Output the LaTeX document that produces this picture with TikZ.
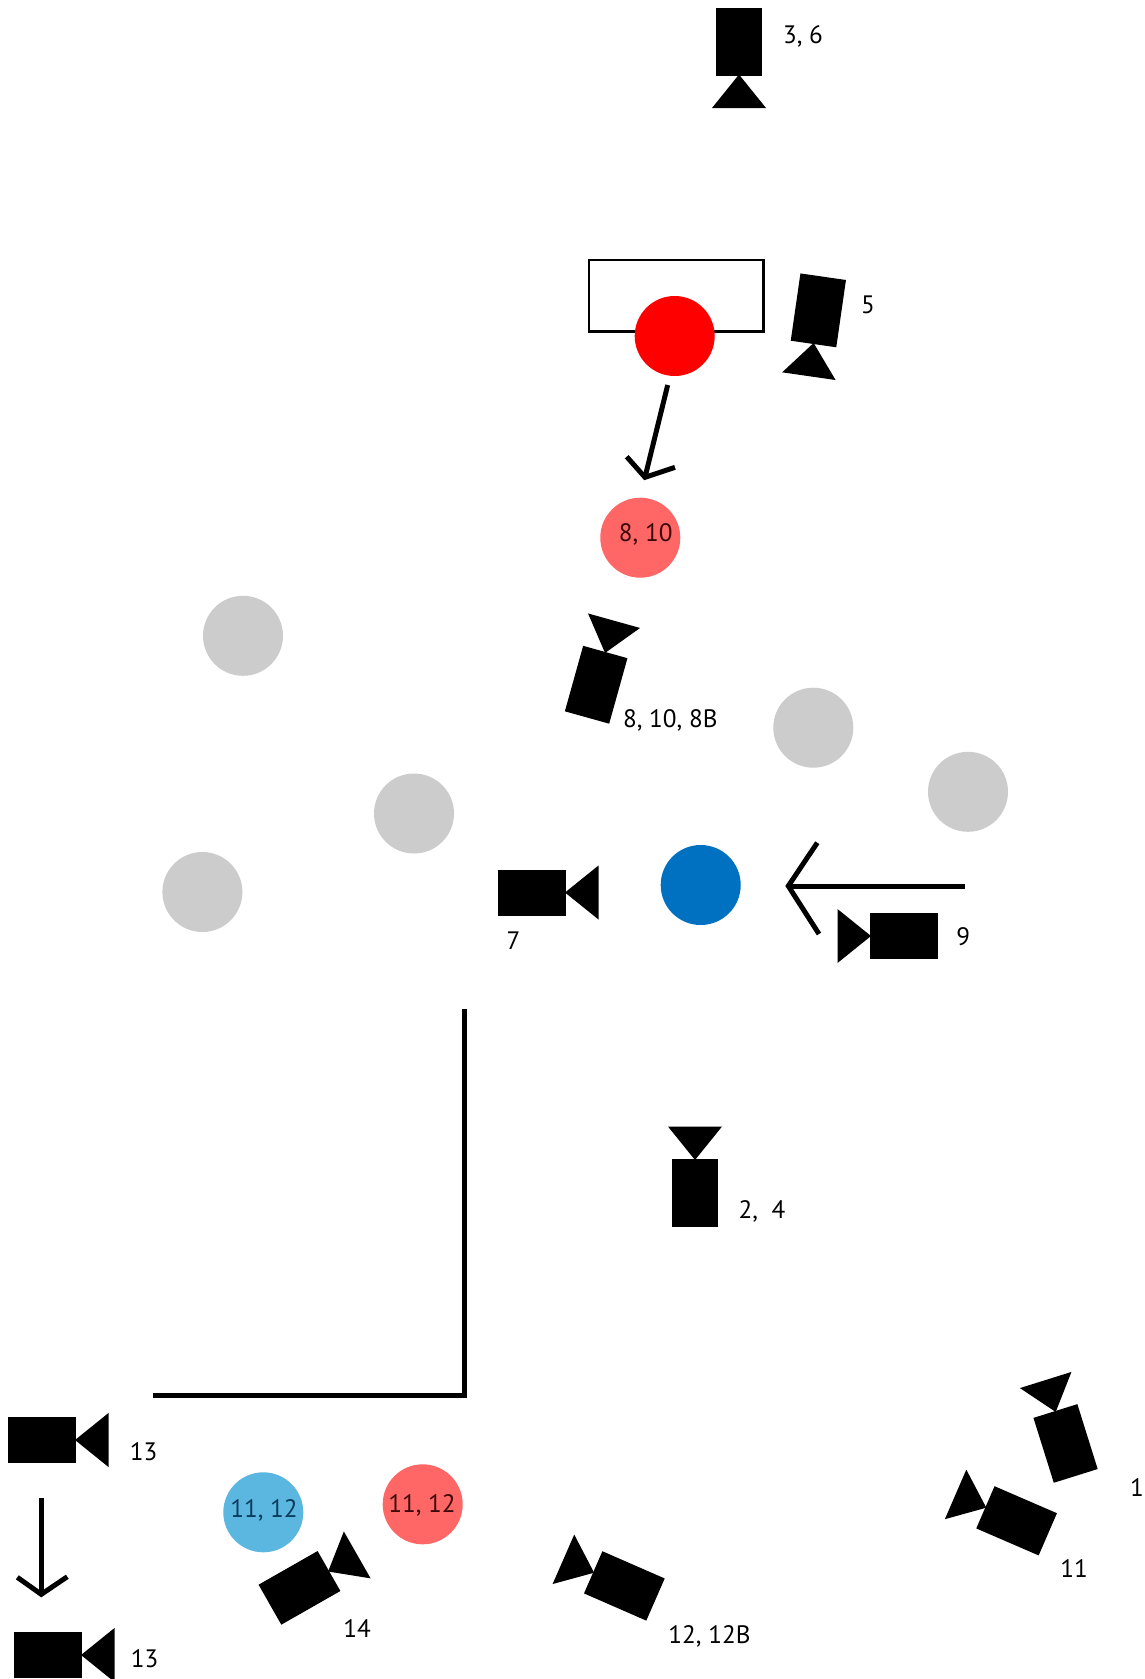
\documentclass[tikz,border=0pt]{standalone}
\usepackage{fontspec}
\setmainfont{PT Sans}
\definecolor{gray1}{HTML}{CCCCCC}
\definecolor{red1}{HTML}{FF0000}
\definecolor{red2}{HTML}{FF6666}
\definecolor{blue1}{HTML}{0070C0}
\definecolor{blue2}{HTML}{5BB7E0}
\tikzset{
  x=1pt,y=-1pt,
  person/.style={circle,minimum size=80pt,inner sep=0pt,outer sep=0pt,fill=#1},
  lab/.style={font=\fontsize{25.2}{26}\selectfont,inner sep=0pt,text=black,text depth=0pt},
  stroke/.style={line width=5pt,draw=black},
  cam/.pic={
    \fill[black] (-68,-23) rectangle (0,23);
    \fill[black] (-1,0) -- (32.5,-27) -- (32.5,27) -- cycle;
  }
}
\begin{document}
\begin{tikzpicture}
\useasboundingbox[fill=white] (0,0) rectangle (1145,1679);
% riser
\node[draw=black,line width=2.4pt,fill=white,minimum width=174.5pt,minimum height=71.5pt,inner sep=0pt] (riser) at (676.2,295.6) {};
% people
\node[person=red1]  (p1) at (674.7,336) {};
\node[person=red2]  (p2) at (640.3,537.7) {};
\node[person=gray1] (g1) at (243,635.8) {};
\node[person=gray1] (g2) at (414,813.5) {};
\node[person=gray1] (g3) at (202.4,892) {};
\node[person=gray1] (g4) at (813.3,727.7) {};
\node[person=gray1] (g5) at (968,791.8) {};
\node[person=blue1] (p3) at (700.7,885) {};
\node[person=blue2] (p4) at (263.3,1512.3) {};
\node[person=red2]  (p5) at (422.7,1504.3) {};
% arrows
\coordinate (a1s) at (667.7,385);
\coordinate (a1e) at (645,477.3);
\coordinate (a1l) at (626.7,456.7);
\coordinate (a1r) at (675,467.3);
\draw[stroke] (a1s) -- (a1e);
\draw[stroke,line join=miter] (a1l) -- (a1e) -- (a1r);
\coordinate (a2s) at (965,886);
\coordinate (a2e) at (788.3,886);
\coordinate (a2l) at (817.3,842.7);
\coordinate (a2r) at (819,934);
\draw[stroke] (a2s) -- (a2e);
\draw[stroke,line join=miter] (a2l) -- (a2e) -- (a2r);
\coordinate (a3s) at (41.3,1498.3);
\coordinate (a3e) at (41.3,1594.3);
\coordinate (a3l) at (17.3,1577.3);
\coordinate (a3r) at (67.3,1576.7);
\draw[stroke] (a3s) -- (a3e);
\draw[stroke,line join=miter] (a3l) -- (a3e) -- (a3r);
% wall
\coordinate (w1) at (153.3,1395);
\coordinate (w2) at (464,1395);
\coordinate (w3) at (464,1009);
\draw[stroke] (w1) -- (w2) -- (w3);
% cameras
\pic[rotate=-90] at (739,75.5) {cam};
\pic[rotate=-98.2] at (813.5,344) {cam};
\pic[rotate=74.4] at (605.3,652) {cam};
\pic at (566,892.5) {cam};
\pic[rotate=180] at (870,936) {cam};
\pic[rotate=90] at (695,1159) {cam};
\pic at (76,1440) {cam};
\pic at (82,1655) {cam};
\pic[rotate=29.7] at (329,1571) {cam};
\pic[rotate=156.4] at (593.2,1572.3) {cam};
\pic[rotate=156.6] at (985.4,1507.3) {cam};
\pic[rotate=107.4] at (1055.4,1411) {cam};
% labels
\node[lab] (l36) at (803,35) {3, 6};
\node[lab] (l5) at (868,304.5) {5};
\node[lab] (l810b) at (670.3,719) {8, 10, 8B};
\node[lab,text={rgb,255:red,60;green,10;blue,10}] (l810) at (645.7,533) {8, 10};
\node[lab] (l7) at (513.6,940.7) {7};
\node[lab] (l9) at (963.3,937) {9};
\node[lab] (l24) at (762,1210) {2,\ \ 4};
\node[lab] (l13a) at (143.5,1452) {13};
\node[lab] (l13b) at (144.5,1659) {13};
\node[lab] (l14) at (357,1629) {14};
\node[lab,text={rgb,255:red,11;green,60;blue,93}] (l11a) at (264,1509) {11, 12};
\node[lab,text={rgb,255:red,60;green,10;blue,10}] (l11b) at (422,1504) {11, 12};
\node[lab] (l1212) at (709.5,1635) {12, 12B};
\node[lab] (l11) at (1074,1569) {11};
\node[lab] (l1) at (1137,1488) {1};
\end{tikzpicture}
\end{document}
